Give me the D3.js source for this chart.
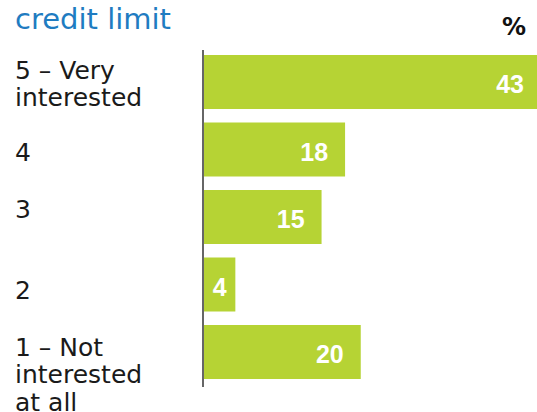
<!DOCTYPE html>
<html>
<head>
<meta charset="utf-8">
<script src="https://cdn.jsdelivr.net/npm/d3@7/dist/d3.min.js"></script>
<style>
  html, body { margin: 0; padding: 0; background: #fff; }
  svg { display: block; }
</style>
</head>
<body>
<svg id="chart" width="537" height="412"></svg>
<script>
// ---- data ----
const categories = ["5 – Very\ninterested", "4", "3", "2", "1 – Not\ninterested\nat all"];
const values = [43, 18, 15, 4, 20];
const titleText = "credit limit";
const unitLabel = "%";

// ---- layout ----
const W = 537, H = 412;
const svg = d3.select("#chart");
const barColor = "#b6d334";
const labelFont = "'DejaVu Sans', sans-serif";
const valueFont = "'Liberation Sans', Arial, sans-serif";

const x = d3.scaleLinear().domain([0, 43]).range([204, 541]);
const y = d3.scaleBand().domain(categories).range([48.25, 385.75])
  .paddingInner(0.2).paddingOuter(0.1);

// title (second line of a wrapped title)
svg.append("text")
  .attr("x", 15).attr("y", 29)
  .attr("font-family", labelFont)
  .attr("font-size", 29)
  .attr("fill", "#1f7cc1")
  .text(titleText);

// unit label
svg.append("text")
  .attr("x", 526).attr("y", 35)
  .attr("text-anchor", "end")
  .attr("font-family", labelFont)
  .attr("font-weight", "bold")
  .attr("font-size", 24)
  .attr("fill", "#111")
  .text(unitLabel);

// bars
svg.append("g").selectAll("rect")
  .data(values)
  .join("rect")
  .attr("x", x(0))
  .attr("y", (d, i) => y(categories[i]))
  .attr("width", d => x(d) - x(0))
  .attr("height", y.bandwidth())
  .attr("fill", barColor);

// value labels
svg.append("g").selectAll("text")
  .data(values)
  .join("text")
  .attr("font-family", valueFont)
  .attr("font-weight", "bold")
  .attr("font-size", 25)
  .attr("fill", "#fff")
  .each(function (d, i) {
    const t = d3.select(this);
    const barW = x(d) - x(0);
    const cy = y(categories[i]) + y.bandwidth() / 2;
    t.text(d).attr("y", cy + 11);
    const tw = this.getComputedTextLength();
    if (tw + 34 > barW) {
      t.attr("x", x(0) + barW / 2).attr("text-anchor", "middle");
    } else {
      t.attr("x", x(d) - 17).attr("text-anchor", "end");
    }
  });

// axis line (category axis, no ticks)
const yAxis = d3.axisLeft(y).tickSize(0).tickFormat("");
const ag = svg.append("g").attr("transform", `translate(${x(0) - 1},0)`).call(yAxis);
ag.select(".domain").attr("stroke", "#333").attr("stroke-width", 1.5)
  .attr("d", `M0,50V387`);

// category labels
const firstBaselineOffset = [-3.5, 11, 0.5, 14, 3.5];
const lineH = 27.5;
svg.append("g").selectAll("text")
  .data(categories)
  .join("text")
  .attr("font-family", labelFont)
  .attr("font-size", 25)
  .attr("fill", "#1a1a1a")
  .each(function (c, i) {
    const t = d3.select(this);
    const cy = y(c) + y.bandwidth() / 2;
    c.split("\n").forEach((line, k) => {
      t.append("tspan")
        .attr("x", 15)
        .attr("y", cy + firstBaselineOffset[i] + k * lineH)
        .text(line);
    });
  });
</script>
</body>
</html>
